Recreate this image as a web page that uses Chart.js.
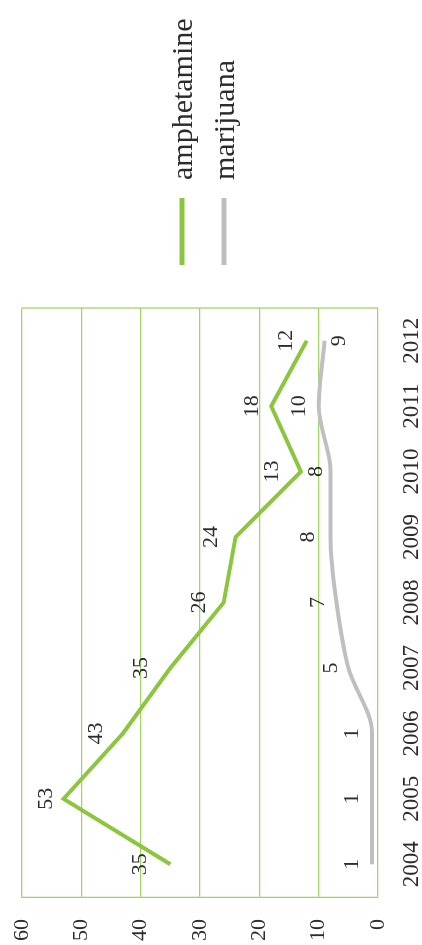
<!DOCTYPE html>
<html>
<head>
<meta charset="utf-8">
<script src="https://cdn.jsdelivr.net/npm/chart.js@4/dist/chart.umd.min.js"></script>
<style>
  html, body { margin: 0; padding: 0; background: #ffffff; overflow: hidden; }
  body { width: 422px; height: 945px; position: relative; }
  /* the chart is laid out landscape and turned a quarter turn to stand upright */
  #wrap {
    position: absolute; left: 0; top: 0;
    width: 945px; height: 422px;
    transform-origin: 0 0;
    transform: translate(0, 945px) rotate(-90deg);
  }
  canvas { display: block; }
</style>
</head>
<body>
<div id="wrap"><canvas id="c" width="945" height="422"></canvas></div>
<script>
// Data
const years = ['2004', '2005', '2006', '2007', '2008', '2009', '2010', '2011', '2012'];
const amphetamine = [35, 53, 43, 35, 26, 24, 13, 18, 12];
const marijuana = [1, 1, 1, 5, 7, 8, 8, 10, 9];
const seriesNames = ['amphetamine', 'marijuana'];

// Value-label placement (pixels above the point; negative = below)
const amphetamineLabelShift = [30, 17, 27, 29, 25, 24, 29, 19, 21];
const marijuanaLabelShift = [20, 20, 20, 17, 18, 22, 14, 19, -15];

const GREEN = '#8cc63f';
const GRAY = '#bfbfc3';
const GRID = '#a0d466';
const TEXT = '#2b2b2b';
const SERIF = '"Liberation Serif", "DejaVu Serif", serif';

const valueLabels = {
  id: 'valueLabels',
  afterDatasetsDraw(chart) {
    const ctx = chart.ctx;
    ctx.save();
    ctx.font = '22px ' + SERIF;
    ctx.fillStyle = TEXT;
    ctx.textAlign = 'center';
    ctx.textBaseline = 'middle';
    chart.data.datasets.forEach((ds, i) => {
      const meta = chart.getDatasetMeta(i);
      const shifts = ds.labelShift;
      meta.data.forEach((pt, j) => {
        ctx.fillText(String(ds.data[j]), pt.x, pt.y - shifts[j]);
      });
    });
    ctx.restore();
  }
};

const frame = {
  id: 'frame',
  afterDraw(chart) {
    const a = chart.chartArea;
    const ctx = chart.ctx;
    ctx.save();
    ctx.strokeStyle = GRID;
    ctx.lineWidth = 1.3;
    ctx.beginPath();
    ctx.moveTo(a.right, a.top);
    ctx.lineTo(a.right, a.bottom);
    ctx.stroke();
    ctx.restore();
  }
};

const sideLegend = {
  id: 'sideLegend',
  afterDraw(chart) {
    const ctx = chart.ctx;
    const x0 = chart.chartArea.right + 43;
    const rows = [182, 224];
    ctx.save();
    chart.data.datasets.forEach((ds, i) => {
      const y = rows[i];
      ctx.strokeStyle = ds.borderColor;
      ctx.lineWidth = 5;
      ctx.beginPath();
      ctx.moveTo(x0, y);
      ctx.lineTo(x0 + 67, y);
      ctx.stroke();
      ctx.fillStyle = TEXT;
      ctx.font = '30px ' + SERIF;
      ctx.textAlign = 'left';
      ctx.textBaseline = 'middle';
      ctx.fillText(ds.label, x0 + 85, y + 2);
    });
    ctx.restore();
  }
};

new Chart(document.getElementById('c'), {
  type: 'line',
  data: {
    labels: years,
    datasets: [
      {
        label: seriesNames[0],
        data: amphetamine,
        borderColor: GREEN,
        borderWidth: 4,
        pointRadius: 0,
        tension: 0,
        labelShift: amphetamineLabelShift
      },
      {
        label: seriesNames[1],
        data: marijuana,
        borderColor: GRAY,
        borderWidth: 4,
        pointRadius: 0,
        cubicInterpolationMode: 'monotone',
        tension: 0.3,
        labelShift: marijuanaLabelShift
      }
    ]
  },
  options: {
    responsive: false,
    animation: false,
    devicePixelRatio: 1,
    layout: { padding: { top: 22, right: 308, left: 0, bottom: 0 } },
    plugins: {
      legend: { display: false },
      tooltip: { enabled: false }
    },
    scales: {
      x: {
        type: 'category',
        offset: true,
        grid: { display: false, drawTicks: false },
        border: { display: false },
        ticks: {
          color: TEXT,
          font: { family: SERIF, size: 23 },
          padding: 20,
          maxRotation: 0,
          autoSkip: false
        },
        afterFit(scale) {
          scale.height = 44;
          scale.paddingLeft = 0;
          scale.paddingRight = 0;
        }
      },
      y: {
        min: 0,
        max: 60,
        grid: { color: GRID, lineWidth: 1.3, drawTicks: false },
        border: { color: GRID, width: 1.3 },
        ticks: {
          stepSize: 10,
          color: TEXT,
          font: { family: SERIF, size: 22 },
          padding: 22
        },
        afterFit(scale) {
          scale.width = 48;
          scale.paddingTop = 0;
          scale.paddingBottom = 0;
        }
      }
    }
  },
  plugins: [valueLabels, frame, sideLegend]
});
</script>
</body>
</html>
